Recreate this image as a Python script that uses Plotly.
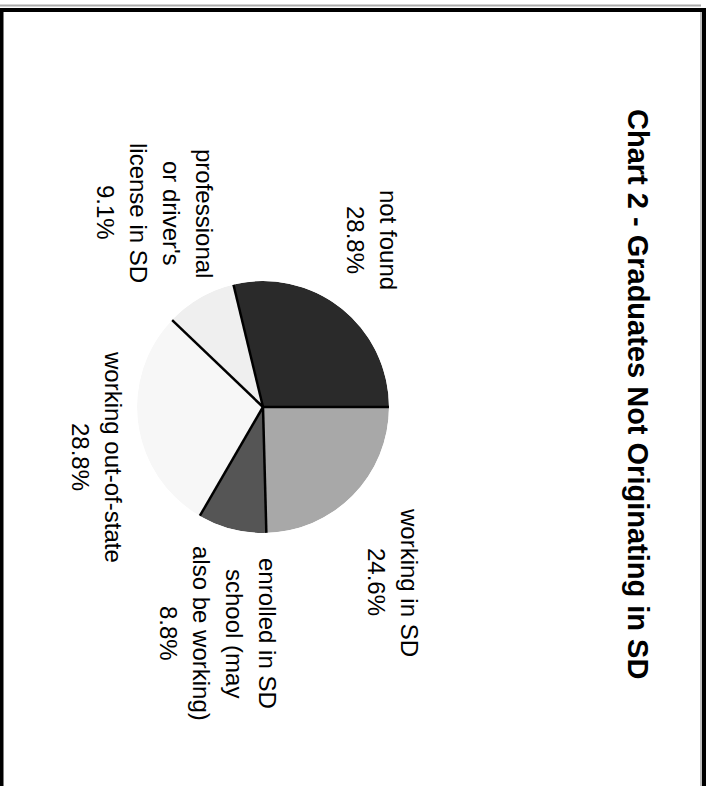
import plotly.graph_objects as go

W, H = 709, 786

categories = [
    "working in SD",
    "enrolled in SD school (may also be working)",
    "working out-of-state",
    "professional or driver's license in SD",
    "not found",
]
percents = [24.6, 8.8, 28.8, 9.1, 28.8]
label_lines = [
    ["working in SD"],
    ["enrolled in SD", "school (may", "also be working)"],
    ["working out-of-state"],
    ["professional", "or driver's", "license in SD"],
    ["not found"],
]
slice_colors = ["#a8a8a8", "#555555", "#f7f7f7", "#efefef", "#2a2a2a"]

# first (rightmost) text column x and block centre y, in pixels
label_pos = [(410, 582), (268, 633), (113, 457), (205, 213), (389, 240)]
LINE_STEP = 33

FONT = "Liberation Sans, Arial, Helvetica, sans-serif"

cx, cy, r = 263, 407, 126
dom_x = [(cx - r) / W, (cx + r) / W]
dom_y = [1 - (cy + r) / H, 1 - (cy - r) / H]

# slice geometry from the shares (clockwise from 3 o'clock)
total = sum(percents)
starts, widths = [], []
acc = 0.0
for p in percents:
    starts.append(acc / total * 360)
    widths.append(p / total * 360)
    acc += p
centers = [s + w / 2 for s, w in zip(starts, widths)]

fig = go.Figure()
fig.add_trace(go.Barpolar(
    r=[1] * len(percents),
    theta=centers,
    width=widths,
    marker=dict(color=slice_colors, line=dict(width=0)),
    customdata=percents,
    hovertext=categories,
    hovertemplate="%{hovertext}: %{customdata}%<extra></extra>",
    showlegend=False,
))

rr, tt = [], []
for s in starts:
    rr += [0, 1, None]
    tt += [s, s, None]
fig.add_trace(go.Scatterpolar(
    r=rr, theta=tt, mode="lines",
    line=dict(color="black", width=2.5),
    hoverinfo="skip", showlegend=False,
))

for lines, p, (x0, yc) in zip(label_lines, percents, label_pos):
    for i, line in enumerate(lines + [f"{p}%"]):
        fig.add_annotation(
            text=line,
            x=(x0 - i * LINE_STEP) / W, y=1 - yc / H,
            xref="paper", yref="paper",
            xanchor="center", yanchor="middle", showarrow=False,
            textangle=90,
            font=dict(family=FONT, size=24, color="black"),
        )

fig.add_annotation(
    text="<b>Chart 2 - Graduates Not Originating in SD</b>",
    x=638 / W, y=1 - 394 / H, xref="paper", yref="paper",
    xanchor="center", yanchor="middle", showarrow=False,
    textangle=90,
    font=dict(family=FONT, size=29, color="black"),
)

# page frame
fig.add_shape(type="line", xref="paper", yref="paper",
              x0=0, x1=701 / W, y0=1 - 5.5 / H, y1=1 - 5.5 / H,
              line=dict(color="#aaaaaa", width=2))
fig.add_shape(type="line", xref="paper", yref="paper",
              x0=701 / W, x1=701 / W, y0=0, y1=1 - 12 / H,
              line=dict(color="#aaaaaa", width=1.5))
fig.add_shape(type="rect", xref="paper", yref="paper",
              x0=1.5 / W, x1=704 / W, y0=-0.02, y1=1 - 10 / H,
              line=dict(color="black", width=4))

fig.update_layout(
    width=W, height=H,
    margin=dict(l=0, r=0, t=0, b=0),
    paper_bgcolor="white",
    plot_bgcolor="white",
    polar=dict(
        domain=dict(x=dom_x, y=dom_y),
        bgcolor="rgba(0,0,0,0)",
        bargap=0,
        radialaxis=dict(range=[0, 1], visible=False, showgrid=False),
        angularaxis=dict(rotation=0, direction="clockwise", visible=False,
                         showgrid=False),
    ),
)

fig.write_html("out.html", config={"displayModeBar": False},
               post_script="document.body.style.margin='0';")
